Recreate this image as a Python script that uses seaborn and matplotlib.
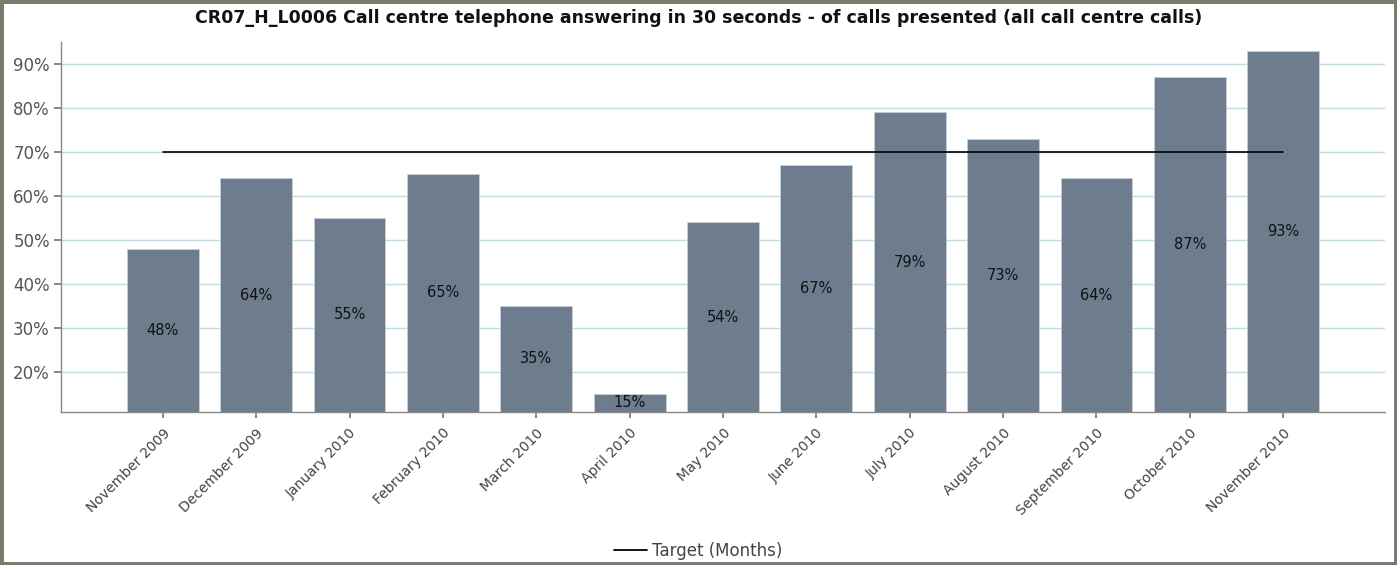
import matplotlib
matplotlib.use("Agg")
import matplotlib.pyplot as plt
import seaborn as sns
import pandas as pd
from matplotlib.patches import Rectangle
from matplotlib.lines import Line2D

months = ["November 2009", "December 2009", "January 2010", "February 2010",
          "March 2010", "April 2010", "May 2010", "June 2010", "July 2010",
          "August 2010", "September 2010", "October 2010", "November 2010"]
values = [48, 64, 55, 65, 35, 15, 54, 67, 79, 73, 64, 87, 93]
target = [70] * 13
yticks = [20, 30, 40, 50, 60, 70, 80, 90]

title = "CR07_H_L0006 Call centre telephone answering in 30 seconds - of calls presented (all call centre calls)"

sns.set_theme(style="white")
plt.rcParams['font.family'] = ['DejaVu Sans']

df = pd.DataFrame({"month": months, "value": values, "target": target})

fig = plt.figure(figsize=(13.97, 5.65), dpi=100)
ax = fig.add_axes([61/1397, 1 - 412/565, (1385-61)/1397, (412-42)/565])

bar_color = "#6e7d8e"
sns.barplot(data=df, x="month", y="value", color=bar_color, width=0.77,
            saturation=1, ax=ax, zorder=3)
for p in ax.patches:
    p.set_edgecolor("#c8ced6")
    p.set_linewidth(0.6)

df["pos"] = range(len(df))
sns.lineplot(data=df, x="pos", y="target", color="black", linewidth=1.2, ax=ax, zorder=4)

ymin, ymax = 10.9, 95
ax.set_ylim(ymin, ymax)
ax.set_xlim(-1.09, len(months) - 1 + 1.09)

ax.set_yticks(yticks)
ax.set_yticklabels([f"{v}%" for v in yticks], fontsize=12, color="#555555")
ax.yaxis.grid(True, color="#b8e0e6", linewidth=1, zorder=0)
ax.xaxis.grid(False)
ax.set_axisbelow(True)

ax.set_xticks(range(len(months)))
ax.set_xticklabels(months, rotation=45, ha="right", rotation_mode="anchor",
                   fontsize=10, color="#444444")
ax.tick_params(axis="x", which="both", bottom=True, length=4, color="#777777", pad=6)
ax.tick_params(axis="y", which="both", left=True, length=5, color="#777777", pad=3)
ax.set_xlabel("")
ax.set_ylabel("")

for s in ["top", "right"]:
    ax.spines[s].set_visible(False)
for s in ["left", "bottom"]:
    ax.spines[s].set_color("#888888")
    ax.spines[s].set_linewidth(1)

for i, v in enumerate(values):
    ax.text(i, (ymin + v) / 2, f"{v}%", ha="center", va="center",
            fontsize=10.5, color="#111111", zorder=5)

fig.text(0.5, 1 - 18/565, title, ha="center", va="center",
         fontsize=12.5, fontweight="bold", color="#111111")

handle = Line2D([], [], color="black", linewidth=1.3)
fig.legend([handle], ["Target (Months)"], loc="center",
           bbox_to_anchor=(0.5, 1 - 551/565), frameon=False,
           fontsize=12, handlelength=2.0, handletextpad=0.3,
           labelcolor="#444444")

fig.patches.append(Rectangle((0, 0), 1, 1, transform=fig.transFigure,
                             fill=False, edgecolor="#7a7a6e", linewidth=5,
                             zorder=10))

fig.savefig("out.png", dpi=100)
